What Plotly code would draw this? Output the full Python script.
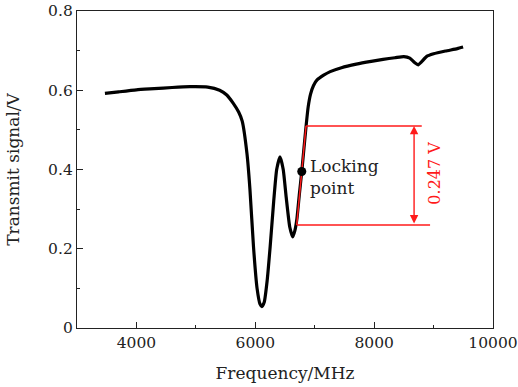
import plotly.graph_objects as go

# Transmission spectrum
freq = [3470, 3700, 4000, 4300, 4600, 4900, 5200, 5400, 5520, 5630, 5720, 5780,
        5860, 5910, 5970, 6030, 6080, 6110, 6150, 6200, 6250, 6310, 6360, 6417,
        6470, 6520, 6580, 6630, 6665, 6700, 6740, 6782, 6820, 6855, 6890, 6930,
        6980, 7040, 7150, 7260, 7450, 7700, 7950, 8150, 8350, 8500, 8600, 8680,
        8740, 8800, 8880, 9000, 9200, 9400, 9497]
signal = [0.592, 0.596, 0.601, 0.604, 0.607, 0.609, 0.608, 0.600, 0.588, 0.567, 0.545, 0.522,
          0.440, 0.350, 0.205, 0.100, 0.060, 0.054, 0.065, 0.120, 0.205, 0.320, 0.400, 0.432,
          0.400, 0.330, 0.255, 0.230, 0.245, 0.275, 0.335, 0.395, 0.455, 0.510, 0.558, 0.590,
          0.612, 0.626, 0.638, 0.647, 0.657, 0.666, 0.673, 0.678, 0.682, 0.685, 0.681, 0.670,
          0.664, 0.672, 0.685, 0.692, 0.699, 0.705, 0.709]

# Annotation values
lock_freq = [6782]
lock_signal = [0.395]
upper_line_f = [6854, 8801]
upper_line_v = 0.510
lower_line_f = [6697, 8941]
lower_line_v = 0.260
arrow_f = 8672
delta_label = "0.247 V"

x_ticks = [4000, 6000, 8000, 10000]
x_tick_text = ["4000", "6000", "8000", "10000"]
y_ticks = [0, 0.2, 0.4, 0.6, 0.8]
y_tick_text = ["0", "0.2", "0.4", "0.6", "0.8"]

FONT = "DejaVu Serif"
RED = "#ff1a1a"
TXT = "#222"

fig = go.Figure()
fig.add_trace(go.Scatter(x=freq, y=signal, mode="lines",
                         line=dict(color="black", width=3.2, shape="spline", smoothing=0.5),
                         hoverinfo="skip", showlegend=False))
# tangent line
fig.add_trace(go.Scatter(x=[lower_line_f[0], upper_line_f[0]], y=[lower_line_v, upper_line_v],
                         mode="lines", line=dict(color=RED, width=1.5), showlegend=False))
fig.add_trace(go.Scatter(x=upper_line_f, y=[upper_line_v, upper_line_v], mode="lines",
                         line=dict(color=RED, width=1.5), showlegend=False))
fig.add_trace(go.Scatter(x=lower_line_f, y=[lower_line_v, lower_line_v], mode="lines",
                         line=dict(color=RED, width=1.5), showlegend=False))
fig.add_trace(go.Scatter(x=lock_freq, y=lock_signal, mode="markers",
                         marker=dict(color="black", size=9), showlegend=False))

fig.add_annotation(x=arrow_f, y=upper_line_v, ax=arrow_f, ay=lower_line_v,
                   xref="x", yref="y", axref="x", ayref="y", text="", showarrow=True,
                   arrowhead=2, arrowside="end+start", arrowsize=1.2, arrowwidth=1.4,
                   arrowcolor=RED)
fig.add_annotation(x=9010, y=(upper_line_v + lower_line_v) / 2 + 0.005, text=delta_label,
                   textangle=-90, showarrow=False, xref="x", yref="y",
                   font=dict(family=FONT, size=16, color=RED))
fig.add_annotation(x=lock_freq[0] + 110, y=lock_signal[0] - 0.015, text="Locking<br>point",
                   showarrow=False, xanchor="left", yanchor="middle", align="left",
                   xref="x", yref="y",
                   font=dict(family=FONT, size=17, color=TXT))

fig.update_layout(
    width=518, height=387,
    margin=dict(l=77, r=25, t=11, b=59),
    plot_bgcolor="white", paper_bgcolor="white",
    font=dict(family=FONT, size=15.5, color=TXT),
    xaxis=dict(range=[3000, 10000], tickvals=x_ticks, ticktext=x_tick_text, ticks="inside",
               ticklen=6, tickcolor=TXT, showline=True, linecolor=TXT, linewidth=1.3,
               mirror=True, showgrid=False, zeroline=False, automargin=False,
               minor=dict(ticks="inside", ticklen=3, dtick=1000, tick0=3000, tickcolor=TXT),
               title=dict(text="Frequency/MHz", standoff=16, font=dict(size=17))),
    yaxis=dict(range=[0, 0.8], tickvals=y_ticks, ticktext=y_tick_text, ticks="inside",
               ticklen=6, tickcolor=TXT, showline=True, linecolor=TXT, linewidth=1.3,
               mirror=True, showgrid=False, zeroline=False, automargin=False,
               minor=dict(ticks="inside", ticklen=3, dtick=0.1, tickcolor=TXT),
               title=dict(text="Transmit signal/V", standoff=24, font=dict(size=17))),
)

fig.write_html("out.html")
